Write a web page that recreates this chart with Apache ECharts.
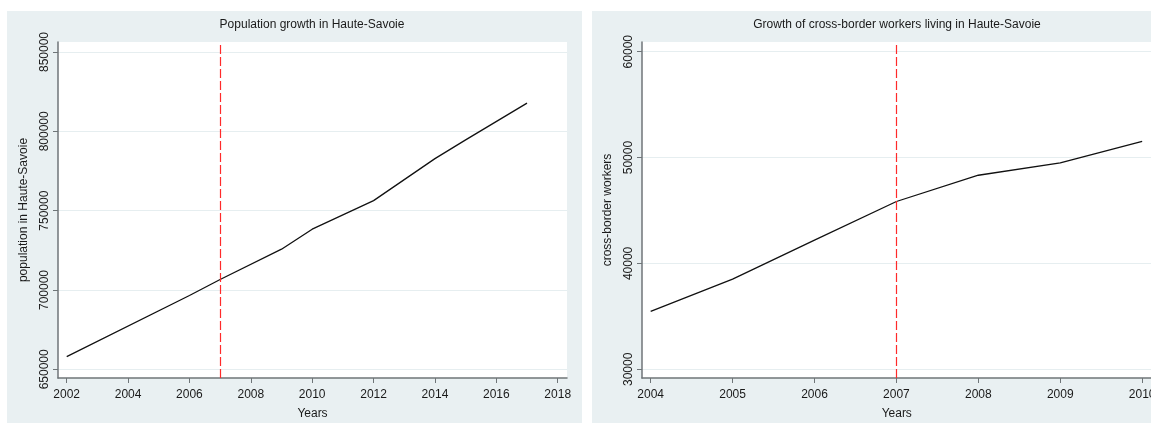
<!DOCTYPE html>
<html>
<head>
<meta charset="utf-8">
<script src="https://cdn.jsdelivr.net/npm/echarts@6/dist/echarts.min.js"></script>
<style>
html,body{margin:0;padding:0;background:#fff;}
#chart{width:1151px;height:423px;}
</style>
</head>
<body>
<div id="chart"></div>
<script>
// ---- Data ----
const popYears = [2002, 2006, 2007, 2009, 2010, 2012, 2014, 2015, 2017];
const popValues = [658000, 696500, 706600, 725700, 738300, 756300, 782800, 794600, 817800];
const workerYears = [2004, 2005, 2006, 2007, 2008, 2009, 2010];
const workerValues = [35470, 38520, 42200, 45850, 48330, 49490, 51540];
const popYearTicks = [2002, 2004, 2006, 2008, 2010, 2012, 2014, 2016, 2018];
const popValueTicks = [650000, 700000, 750000, 800000, 850000];
const workerYearTicks = [2004, 2005, 2006, 2007, 2008, 2009, 2010];
const workerValueTicks = [30000, 40000, 50000, 60000];
const markerYear = 2007;
const titles = ['Population growth in Haute-Savoie', 'Growth of cross-border workers living in Haute-Savoie'];
const xNames = ['Years', 'Years'];
const yNames = ['population in Haute-Savoie', 'cross-border workers'];

const FONT = '"Liberation Sans", Arial, sans-serif';
const AXIS_COLOR = '#6f7578';
const TEXT_COLOR = '#1a1a1a';
const BG = '#e9f0f2';
const GRID_LINE = '#e6eef0';

function xAxisCfg(idx, min, max, ticks) {
  return {
    type: 'value', gridIndex: idx, min: min, max: max,
    name: xNames[idx], nameLocation: 'middle', nameGap: 30,
    nameTextStyle: {fontFamily: FONT, fontSize: 12, color: TEXT_COLOR},
    axisLine: {show: true, onZero: false, lineStyle: {color: AXIS_COLOR, width: 1.5}},
    axisTick: {show: true, length: 5, customValues: ticks, lineStyle: {color: AXIS_COLOR, width: 1}},
    axisLabel: {customValues: ticks, margin: 11, fontFamily: FONT, fontSize: 12, color: TEXT_COLOR,
      hideOverlap: false, formatter: v => String(v)},
    splitLine: {show: false}
  };
}
function yAxisCfg(idx, min, max, ticks) {
  return {
    type: 'value', gridIndex: idx, min: min, max: max,
    name: yNames[idx], nameLocation: 'middle', nameGap: 28, nameRotate: 90,
    nameTextStyle: {fontFamily: FONT, fontSize: 12, color: TEXT_COLOR},
    axisLine: {show: true, onZero: false, lineStyle: {color: AXIS_COLOR, width: 1.5}},
    axisTick: {show: true, length: 5, customValues: ticks, lineStyle: {color: AXIS_COLOR, width: 1}},
    axisLabel: {customValues: ticks, rotate: 90, margin: 7, fontFamily: FONT, fontSize: 12, color: TEXT_COLOR,
      formatter: v => String(v)},
    splitLine: {show: true, lineStyle: {color: GRID_LINE, width: 1.2}}
  };
}

const chart = echarts.init(document.getElementById('chart'), null, {renderer: 'canvas'});
chart.setOption({
  backgroundColor: '#ffffff',
  animation: false,
  graphic: [
    {type: 'rect', z: -10, shape: {x: 7, y: 11, width: 575, height: 412}, style: {fill: BG}},
    {type: 'rect', z: -10, shape: {x: 592, y: 11, width: 575, height: 412}, style: {fill: BG}}
  ],
  title: [
    {text: titles[0], left: 312, top: 19, textAlign: 'center', padding: 0,
     textStyle: {fontFamily: FONT, fontSize: 12, fontWeight: 'normal', color: TEXT_COLOR}},
    {text: titles[1], left: 897, top: 19, textAlign: 'center', padding: 0,
     textStyle: {fontFamily: FONT, fontSize: 12, fontWeight: 'normal', color: TEXT_COLOR}}
  ],
  grid: [
    {left: 58, top: 42, width: 509, height: 336, show: true, backgroundColor: '#ffffff', borderWidth: 0,
     containLabel: false, outerBoundsMode: 'none'},
    {left: 642, top: 42, width: 509.5, height: 336, show: true, backgroundColor: '#ffffff', borderWidth: 0,
     containLabel: false, outerBoundsMode: 'none'}
  ],
  xAxis: [
    xAxisCfg(0, 2001.7165, 2018.303, popYearTicks),
    xAxisCfg(1, 2003.894, 2010.114, workerYearTicks)
  ],
  yAxis: [
    yAxisCfg(0, 644516, 856303, popValueTicks),
    yAxisCfg(1, 29178, 60916, workerValueTicks)
  ],
  series: [
    {
      type: 'line', xAxisIndex: 0, yAxisIndex: 0, symbol: 'none',
      data: popYears.map((y, i) => [y, popValues[i]]),
      lineStyle: {color: '#111111', width: 1.3},
      markLine: {silent: true, symbol: ['none', 'none'], label: {show: false},
        lineStyle: {color: '#ff2a2a', type: [9, 3], width: 1.2},
        data: [{xAxis: markerYear}]},
      z: 3
    },
    {
      type: 'line', xAxisIndex: 1, yAxisIndex: 1, symbol: 'none',
      data: workerYears.map((y, i) => [y, workerValues[i]]),
      lineStyle: {color: '#111111', width: 1.3},
      markLine: {silent: true, symbol: ['none', 'none'], label: {show: false},
        lineStyle: {color: '#ff2a2a', type: [9, 3], width: 1.2},
        data: [{xAxis: markerYear}]},
      z: 3
    }
  ]
});
</script>
</body>
</html>
